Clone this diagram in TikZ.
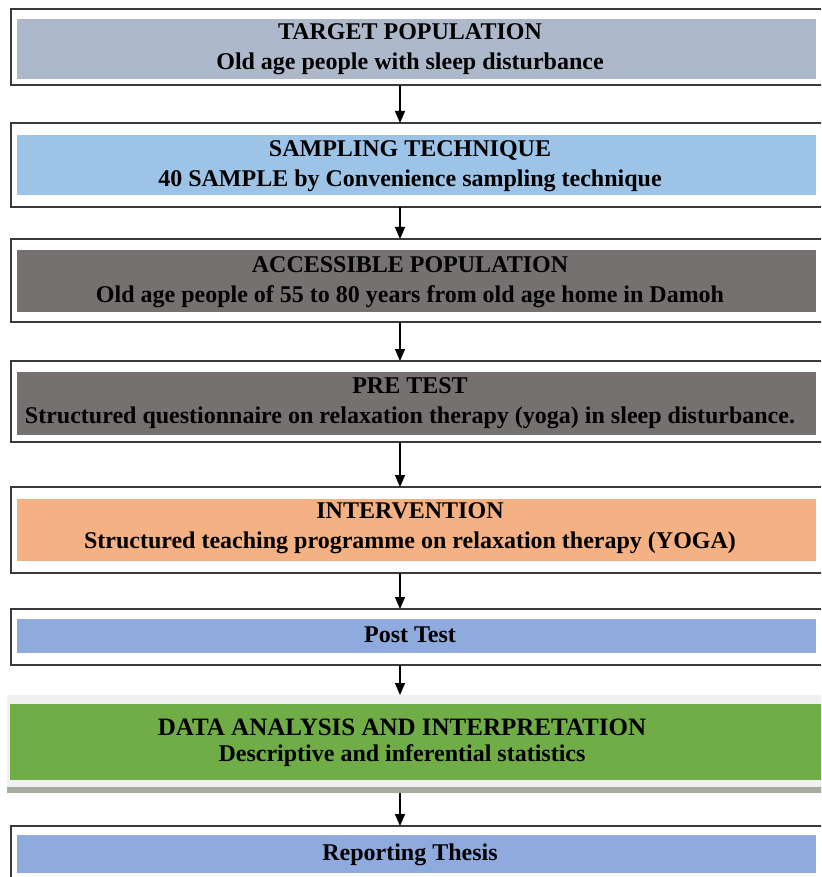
\documentclass[tikz,border=0pt]{standalone}
\usepackage{fontspec}
\setmainfont{Liberation Serif}
\usetikzlibrary{arrows.meta}
\definecolor{cA}{HTML}{ADB9CA}
\definecolor{cB}{HTML}{9DC3E6}
\definecolor{cC}{HTML}{767171}
\definecolor{cD}{HTML}{F4B183}
\definecolor{cE}{HTML}{8FAADC}
\definecolor{cG}{HTML}{70AD47}
\definecolor{cBG}{HTML}{F0F0F0}
\definecolor{cST}{HTML}{A3AC9D}
\definecolor{cLine}{HTML}{3A3A3A}
\tikzset{
  outerbox/.style={draw=cLine, line width=2pt, minimum width=817pt, inner sep=0pt, outer sep=0pt},
  txt/.style={font=\fontsize{24}{30}\selectfont\bfseries, align=center, inner sep=0pt},
  arr/.style={line width=1.4pt, -{Triangle[width=10pt,length=12pt]}}
}
\begin{document}
\begin{tikzpicture}[x=1pt,y=-1pt]
\clip (0,0) rectangle (821,877);
\useasboundingbox (0,0) rectangle (821,877);
\fill[white] (0,0) rectangle (821,877);
\coordinate (ax) at (400,0);
% box 1
\node[outerbox, minimum height=76pt] (b1) at (419.5,47) {};
\fill[cA] (17,19) rectangle (816,79);
\node[txt] (t1) at (410,49.5) {TARGET POPULATION\\Old age people with sleep disturbance};
% box 2
\node[outerbox, minimum height=84pt] (b2) at (419.5,165) {};
\fill[cB] (17,135) rectangle (816,195);
\node[txt] (t2) at (410,166) {SAMPLING TECHNIQUE\\40 SAMPLE by Convenience sampling technique};
% box 3
\node[outerbox, minimum height=83pt] (b3) at (419.5,280.5) {};
\fill[cC] (17,250) rectangle (816,312);
\node[txt] (t3) at (410,282) {ACCESSIBLE POPULATION\\Old age people of 55 to 80 years from old age home in Damoh};
% box 4
\node[outerbox, minimum height=81pt] (b4) at (419.5,401.5) {};
\fill[cC] (17,372) rectangle (816,435);
\node[txt] (t4) at (410,403.5) {PRE TEST\\Structured questionnaire on relaxation therapy (yoga) in sleep disturbance.};
% box 5
\node[outerbox, minimum height=86pt] (b5) at (419.5,530) {};
\fill[cD] (17,499) rectangle (816,561);
\node[txt] (t5) at (410,528.5) {INTERVENTION\\Structured teaching programme on relaxation therapy (YOGA)};
% box 6
\node[outerbox, minimum height=56pt] (b6) at (419.5,637) {};
\fill[cE] (17,619) rectangle (816,653);
\node[txt] (t6) at (410,635) {Post Test};
% box 7
\node[fill=cBG, minimum width=820pt, minimum height=93pt, inner sep=0pt, outer sep=0pt, anchor=north west] (b7) at (7,695) {};
\fill[cST] (7,787) rectangle (830,793);
\coordinate (b7s) at (400,793);
\fill[cG] (10,704) rectangle (830,780);
\node[txt, font=\fontsize{24}{26}\selectfont\bfseries] (t7) at (402,743) {{\fontsize{25}{26}\selectfont DATA ANALYSIS AND INTERPRETATION}\\Descriptive and inferential statistics};
% box 8
\node[outerbox, minimum height=64pt] (b8) at (419.5,858) {};
\fill[cE] (17,835) rectangle (816,873);
\node[txt] (t8) at (410,855) {Reporting Thesis};
% arrows
\draw[arr] (b1.south -| ax) -- (b2.north -| ax);
\draw[arr] (b2.south -| ax) -- (b3.north -| ax);
\draw[arr] (b3.south -| ax) -- (b4.north -| ax);
\draw[arr] (b4.south -| ax) -- (b5.north -| ax);
\draw[arr] (b5.south -| ax) -- (b6.north -| ax);
\draw[arr] (b6.south -| ax) -- (b7.north -| ax);
\draw[arr] (b7s) -- (b8.north -| ax);
\end{tikzpicture}
\end{document}
